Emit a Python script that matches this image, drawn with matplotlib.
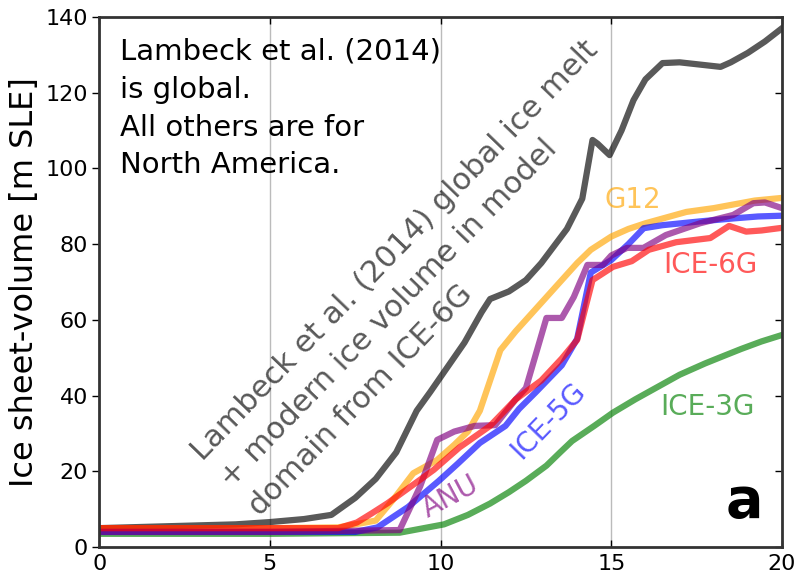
import matplotlib
matplotlib.use('Agg')
import matplotlib.pyplot as plt

# Lambeck et al. (2014), global
lambeck_x = [0, 2, 4, 5, 6, 6.8, 7.5, 8.1, 8.7, 9.3, 9.7, 10.2, 10.7, 11.2, 11.45, 12.0,
             12.5, 12.95, 13.7, 14.15, 14.45, 14.6, 14.95, 15.3, 15.65, 16.0, 16.5, 17.0,
             17.5, 18.2, 18.5, 19.0, 19.5, 20]
lambeck_y = [5.0, 5.5, 6.0, 6.6, 7.4, 8.5, 13, 18, 25, 36, 41, 47.5, 54, 62, 65.5, 67.5,
             70.5, 75, 84, 92, 107.5, 106.5, 103.5, 110, 118, 123.5, 127.8, 128,
             127.5, 126.8, 128, 130.5, 133.5, 137]

ice3g_x = [0, 5, 8.8, 10.1, 10.8, 11.45, 12.0, 12.5, 13.1, 13.5, 13.85, 14.5, 15.05, 15.7,
           16.4, 17.0, 17.75, 18.3, 18.8, 19.4, 20]
ice3g_y = [3.5, 3.5, 3.8, 6.0, 8.5, 11.5, 14.5, 17.5, 21.5, 25, 28, 32, 35.5, 39,
           42.5, 45.5, 48.5, 50.5, 52.3, 54.3, 56]

g12_x = [0, 5, 7.0, 7.5, 8.1, 8.6, 9.2, 9.9, 10.4, 10.8, 11.15, 11.45, 11.75, 12.2, 12.7,
         13.2, 13.6, 14.0, 14.4, 15.0, 15.5, 16.0, 16.6, 17.2, 18.0, 18.6, 19.2, 20]
g12_y = [5, 5, 5.2, 6, 7, 12.4, 19.5, 23, 27, 30.5, 36, 44, 52, 57, 62,
         67, 71, 75, 78.5, 82, 84, 85.5, 87, 88.5, 89.5, 90.5, 91.5, 92.2]

ice5g_x = [0, 5, 7.5, 8.15, 9.05, 9.95, 10.5, 11.15, 11.9, 12.3, 12.8, 13.55, 14.0, 14.4,
           15.0, 15.5, 15.95, 16.5, 17.6, 18.6, 19.3, 20]
ice5g_y = [4, 4, 4, 5.2, 10.6, 17.5, 22, 27.5, 32, 36.5, 41, 48, 55, 72.5,
           75.8, 80, 84.2, 85, 86, 86.8, 87.3, 87.5]

anu_x = [0, 5, 8.8, 9.4, 9.9, 10.4, 11.0, 11.6, 12.2, 12.5, 13.1, 13.55, 13.9, 14.3,
         14.75, 15.0, 15.46, 15.94, 16.6, 17.6, 18.57, 19.16, 19.5, 20]
anu_y = [4, 4, 4.5, 16, 28.3, 30.5, 32, 32.2, 39, 42, 60.5, 60.5, 66, 74.5,
         74.5, 77, 79, 79, 82.4, 85.5, 87.7, 90.8, 91, 89.5]

ice6g_x = [0, 5, 7.0, 7.55, 8.0, 8.45, 9.05, 9.8, 10.55, 11.45, 12.2, 12.95, 13.55, 14.0,
           14.45, 15.05, 15.6, 16.1, 16.9, 17.9, 18.45, 18.95, 19.4, 20]
ice6g_y = [5, 5, 5, 6.5, 9, 11.6, 15.5, 20.4, 26.3, 32, 39, 44, 49.8, 54.7,
           70.5, 74, 75.5, 78.5, 80.5, 81.6, 84.8, 83.3, 83.6, 84.3]

x_ticks = [0, 5, 10, 15, 20]
y_ticks = [0, 20, 40, 60, 80, 100, 120, 140]

plt.rcParams['font.family'] = 'DejaVu Sans'

fig = plt.figure(figsize=(8, 5.82), dpi=100)
ax = fig.add_axes([0.124, 0.06, 0.8535, 0.911])

lw = 4.5
al = 0.65
ax.plot(lambeck_x, lambeck_y, color='k', lw=lw, alpha=al)
ax.plot(ice3g_x, ice3g_y, color='g', lw=lw, alpha=al)
ax.plot(g12_x, g12_y, color='orange', lw=lw, alpha=al)
ax.plot(ice5g_x, ice5g_y, color='b', lw=lw, alpha=al)
ax.plot(anu_x, anu_y, color='purple', lw=lw, alpha=al)
ax.plot(ice6g_x, ice6g_y, color='r', lw=lw, alpha=al)

ax.set_xlim(0, 20)
ax.set_ylim(0, 140)
ax.set_xticks(x_ticks)
ax.set_yticks(y_ticks)
ax.xaxis.grid(True, color='#bbbbbb', lw=1)
ax.set_axisbelow(True)
ax.tick_params(axis='x', direction='in', top=True, labelsize=16, length=5, width=1, pad=5)
ax.tick_params(axis='y', direction='out', labelsize=16, length=5, width=1, pad=3)
# right-hand ticks point inwards
ax2 = ax.secondary_yaxis('right')
ax2.set_yticks(y_ticks)
ax2.tick_params(direction='in', length=5, width=1, labelright=False)
ax2.spines['right'].set_visible(False)
for s in ax.spines.values():
    s.set_color('#333333')
    s.set_linewidth(2)
ax.set_ylabel('Ice sheet-volume [m SLE]', fontsize=23, labelpad=4)

# annotations
ax.text(0.6, 134.5, 'Lambeck et al. (2014)\nis global.\nAll others are for\nNorth America.',
        fontsize=21, va='top', ha='left', linespacing=1.45)
ax.text(9.5, 71.0, 'Lambeck et al. (2014) global ice melt\n+ modern ice volume in model\ndomain from ICE-6G',
        fontsize=22, color='k', alpha=al, rotation=46, rotation_mode='anchor',
        ha='center', va='center', multialignment='left', linespacing=1.45)
ax.text(15.64, 91.6, 'G12', color='orange', alpha=al, fontsize=20, ha='center', va='center')
ax.text(17.9, 74.5, 'ICE-6G', color='r', alpha=al, fontsize=20, ha='center', va='center')
ax.text(17.83, 37, 'ICE-3G', color='g', alpha=al, fontsize=20, ha='center', va='center')
ax.text(13.15, 33.3, 'ICE-5G', color='b', alpha=al, fontsize=20, ha='center', va='center',
        rotation=46, rotation_mode='anchor')
ax.text(10.28, 13.2, 'ANU', color='purple', alpha=al, fontsize=20, ha='center', va='center',
        rotation=28, rotation_mode='anchor')
ax.text(18.9, 11.9, 'a', fontsize=40, fontweight='bold', ha='center', va='center')

plt.savefig('out.png', dpi=100)
